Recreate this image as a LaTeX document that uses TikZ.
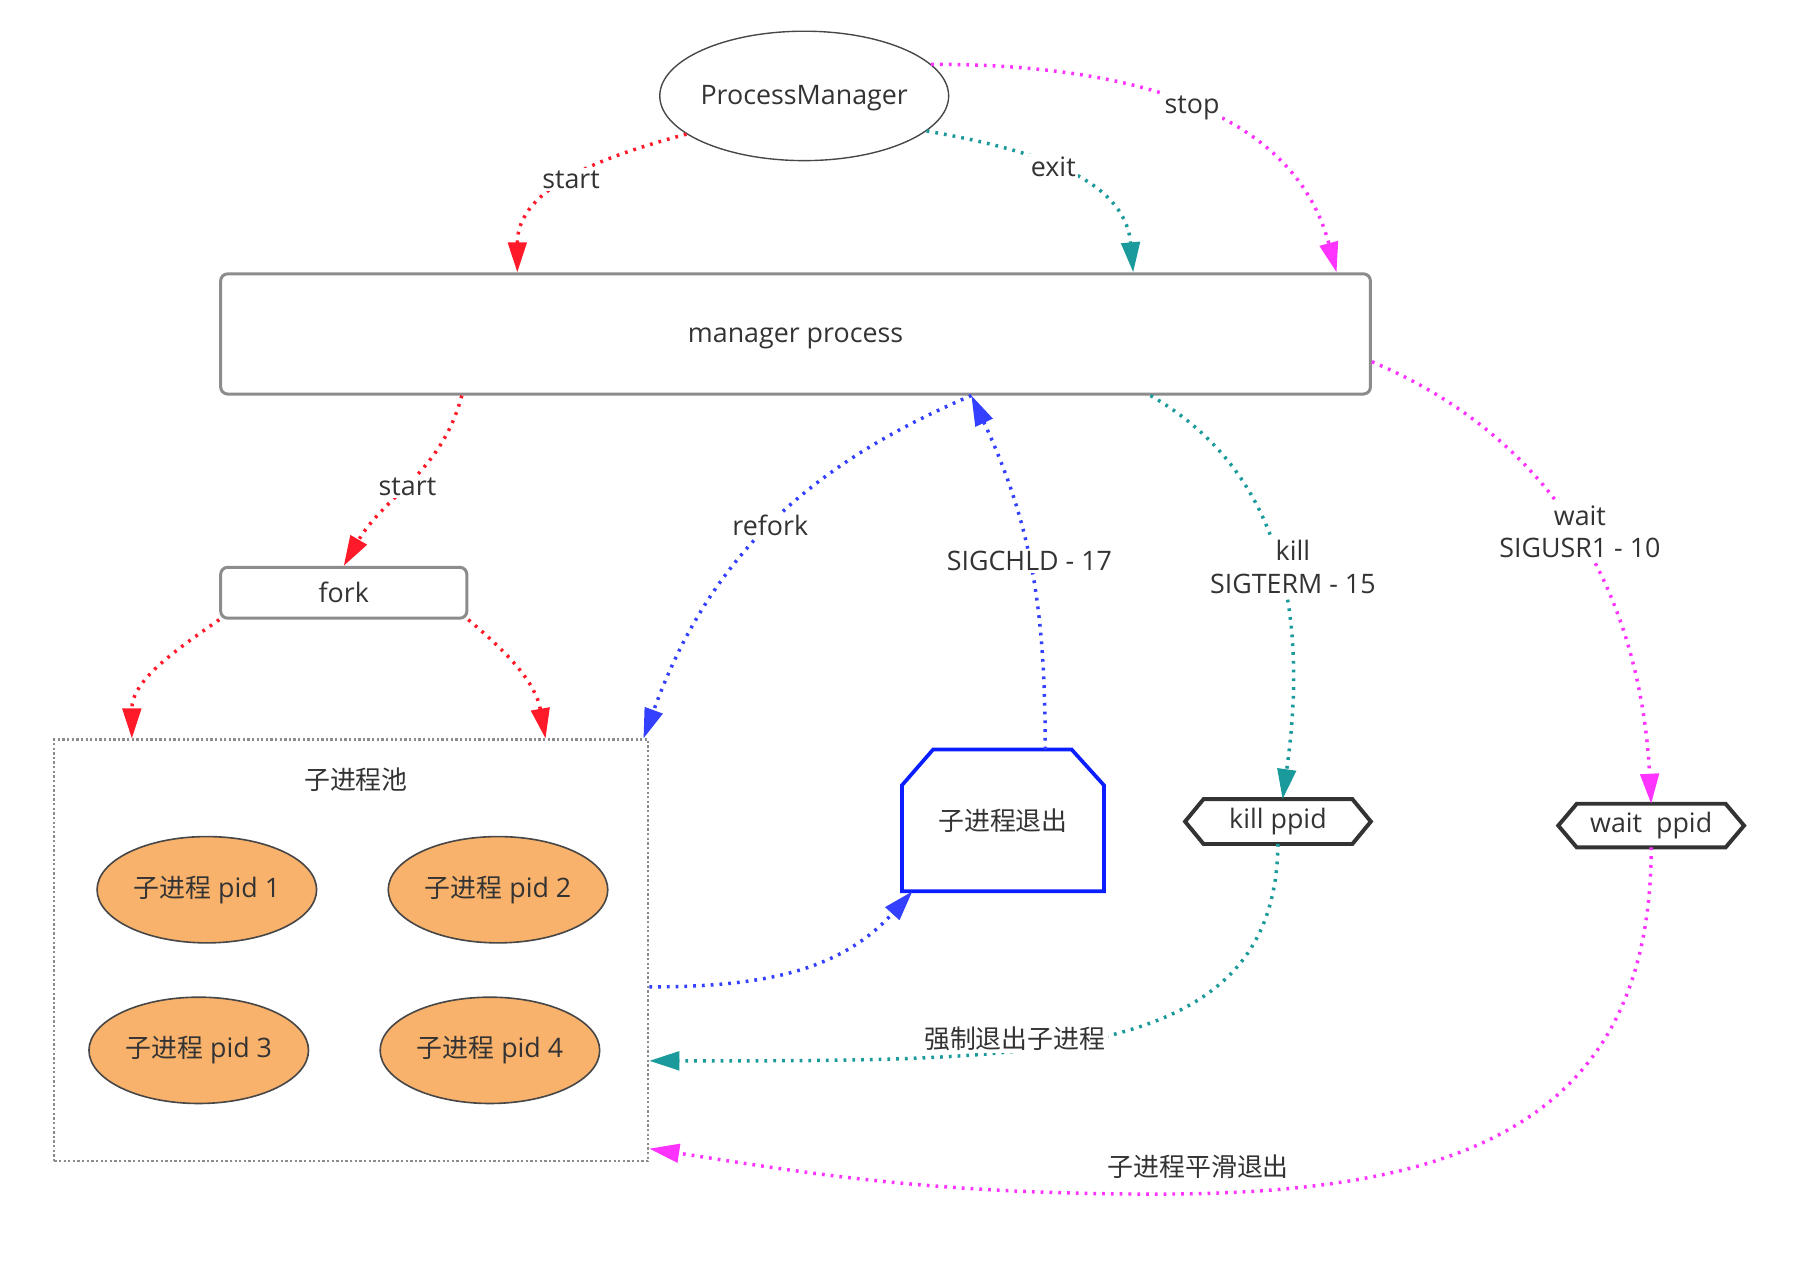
\documentclass[tikz,border=0pt]{standalone}
\usepackage{fontspec}
\setmainfont{Open Sans}
\newfontfamily\cjkfam{Noto Sans CJK SC}
\newcommand\zhtext[1]{{\cjkfam\fontsize{11.2pt}{14pt}\selectfont #1}}
\usetikzlibrary{arrows.meta,shapes.geometric,calc}
\definecolor{cred}{HTML}{FF1A2A}
\definecolor{cteal}{HTML}{1A9A9A}
\definecolor{cmag}{HTML}{FF33FF}
\definecolor{cblue}{HTML}{3340FF}
\definecolor{cbbox}{HTML}{0A1EFF}
\definecolor{ctext}{HTML}{333333}
\definecolor{cgray}{HTML}{8C8C8C}
\definecolor{corange}{HTML}{F9B26C}
\begin{document}
\begin{tikzpicture}[x=0.5pt,y=-0.5pt,
  every node/.style={font=\fontsize{11.6pt}{14pt}\selectfont, text=ctext},
  conn/.style={line width=1.5pt, dash pattern=on 1.2pt off 2.6pt,
    -{Triangle[length=13pt,width=8pt]}},
  lbl/.style={fill=white, inner sep=1pt, align=center},
  graybox/.style={rectangle, rounded corners=3pt, draw=cgray, line width=1.3pt},
  pid/.style={ellipse, draw=ctext!90, line width=0.7pt, fill=corange, inner sep=0pt,
    minimum width=95pt, minimum height=46pt},
  hexd/.style={draw=ctext, line width=1.7pt, line join=miter},
  plain/.style={inner sep=0pt}
]
\useasboundingbox (0,0) rectangle (1563,1104);

% nodes
\node[ellipse, draw=ctext!90, line width=0.6pt, inner sep=0pt, minimum width=125pt, minimum height=56pt] (pm) at (696,83) {\raisebox{-3.6pt}[0pt][0pt]{\makebox[40pt]{ProcessManager}}};
\node[graybox, minimum width=497.5pt, minimum height=52pt] (mgr) at (688.5,289) {\raisebox{-3.6pt}[0pt][0pt]{manager process}};
\node[graybox, minimum width=106.5pt, minimum height=22pt] (fork) at (297.5,513) {fork};
\node[draw=cgray, line width=0.9pt, dash pattern=on 1pt off 1pt, minimum width=257pt, minimum height=182.5pt] (pool) at (304,822.5) {};
\node (pooll) at (308,675) {\zhtext{子进程池}};
\node[pid] (p1) at (179,770) {\makebox[30pt]{\zhtext{子进程} pid 1}};
\node[pid] (p2) at (431,770) {\makebox[30pt]{\zhtext{子进程} pid 2}};
\node[pid] (p3) at (172,909) {\makebox[30pt]{\zhtext{子进程} pid 3}};
\node[pid] (p4) at (424,909) {\makebox[30pt]{\zhtext{子进程} pid 4}};

\node[plain, minimum width=87pt, minimum height=61pt] (ex) at (868,710) {\zhtext{子进程退出}};
\draw[cbbox, line width=1.6pt] (ex.south west) -- ([yshift=-15.5pt]ex.north west) -- ([xshift=13.5pt]ex.north west) -- ([xshift=-14pt]ex.north east) -- ([yshift=-15.5pt]ex.north east) -- (ex.south east) -- cycle;

\node[plain, minimum width=80pt, minimum height=19pt] (kp) at (1106,711) {kill ppid};
\draw[hexd] (kp.west) -- ([xshift=8pt]kp.north west) -- ([xshift=-8pt]kp.north east) -- (kp.east) -- ([xshift=-8pt]kp.south east) -- ([xshift=8pt]kp.south west) -- cycle;

\node[plain, minimum width=80pt, minimum height=18.5pt] (wp) at (1429,714.5) {wait\ \ ppid};
\draw[hexd] (wp.west) -- ([xshift=8pt]wp.north west) -- ([xshift=-8pt]wp.north east) -- (wp.east) -- ([xshift=-8pt]wp.south east) -- ([xshift=8pt]wp.south west) -- cycle;

% connectors from ProcessManager
\draw[conn, cred] (pm.198) to[out=195, in=90] node[lbl, pos=0.5] {start} ([xshift=129pt]mgr.north west);
\draw[conn, cteal] (pm.-16) to[out=-10, in=95] node[lbl, pos=0.46] {exit} ([xshift=395.5pt]mgr.north west);
\draw[conn, cmag] (pm.14) to[out=0, in=105] node[lbl, pos=0.52] {stop} ([xshift=483.5pt]mgr.north west);

% manager to fork
\draw[conn, cred] ([xshift=105pt]mgr.south west) to[out=-105, in=60] node[lbl, pos=0.52] {start} (fork.north);
\draw[conn, cred] (fork.south west) to[out=215, in=90] ([xshift=34pt]pool.north west);
\draw[conn, cred] (fork.south east) to[out=-40, in=100] ([xshift=213pt]pool.north west);

% refork / SIGCHLD
\draw[conn, cblue] ([xshift=325.5pt]mgr.south west) to[out=203, in=70] node[lbl, pos=0.49] {refork} ([xshift=-2.5pt]pool.north east);
\draw[conn, cblue] ([xshift=62pt]ex.north west) to[out=90, in=-65] node[lbl, pos=0.52] {SIGCHLD - 17} ([xshift=325.5pt]mgr.south west);
\draw[conn, cblue] ([yshift=-107.5pt]pool.north east) to[out=0, in=228] ([xshift=4.5pt]ex.south west);

% kill / wait
\draw[conn, cteal] ([xshift=403pt]mgr.south west) to[out=-30, in=82] node[lbl, pos=0.5, xshift=6pt] {kill\\SIGTERM - 15} ([xshift=2pt]kp.north);
\draw[conn, cmag] ([yshift=-12pt]mgr.east) to[out=-23, in=93] node[lbl, pos=0.49, xshift=2pt] {wait\\SIGUSR1 - 10} (wp.north);

% back to pool
\draw[conn, cteal] (kp.south) .. controls +(-2,190) and +(337,0) .. ([yshift=-139.5pt]pool.north east) node[lbl, pos=0.63, yshift=5pt] {\zhtext{强制退出子进程}};
\draw[conn, cmag] (wp.south) .. controls +(0,247) and +(250,0) .. ++(-429,300) node[pos=0.95, inner sep=1pt, yshift=11.5pt] {\zhtext{子进程平滑退出}} .. controls +(-200,0) and +(130,20) .. ([yshift=-177.5pt]pool.north east);
\end{tikzpicture}
\end{document}
